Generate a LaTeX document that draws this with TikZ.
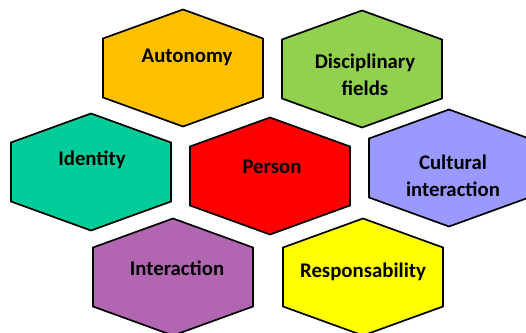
\documentclass[tikz,border=0pt]{standalone}
\usepackage{fontspec}
\setmainfont{Carlito}
\usetikzlibrary{calc}

\definecolor{autonomycol}{HTML}{FFC000}
\definecolor{fieldscol}{HTML}{92D050}
\definecolor{identitycol}{HTML}{00CC99}
\definecolor{personcol}{HTML}{FF0000}
\definecolor{culturalcol}{HTML}{9999FF}
\definecolor{interactioncol}{HTML}{B266B2}
\definecolor{respcol}{HTML}{FFFF00}

\tikzset{
  hexcell/.style={draw=black, line width=1.7pt, line join=miter},
  hextext/.style={font=\bfseries\fontsize{20.8}{27}\selectfont, align=center, inner sep=0pt},
}
\newcommand{\hexcellat}[2]{%
  \filldraw[hexcell, fill=#2] (#1) +(0,-58.5) -- +(80,-29.5) -- +(80,29.5) -- +(0,58.5) -- +(-80,29.5) -- +(-80,-29.5) -- cycle;}

\begin{document}
\begin{tikzpicture}[x=1pt, y=-1pt]
    \useasboundingbox (0,0) rectangle (526,332);
    \clip (0,0) rectangle (526,332);

    \coordinate (autonomy) at (183,68);
    \coordinate (fields) at (362,69);
    \coordinate (identity) at (91,172);
    \coordinate (person) at (270,176);
    \coordinate (cultural) at (449,168);
    \coordinate (interaction) at (173,277);
    \coordinate (resp) at (363,277);

    \hexcellat{autonomy}{autonomycol}
    \hexcellat{fields}{fieldscol}
    \hexcellat{identity}{identitycol}
    \hexcellat{person}{personcol}
    \hexcellat{cultural}{culturalcol}
    \hexcellat{interaction}{interactioncol}
    \hexcellat{resp}{respcol}

    \node[hextext] (autonomyText) at (187,57) {Autonomy};
    \node[hextext] (fieldsText) at (365,74.5) {Disciplinary\\fields};
    \node[hextext] (identityText) at (92,160) {Identity};
    \node[hextext] (personText) at (272,167) {Person};
    \node[hextext] (culturalText) at (453,176) {Cultural\\interaction};
    \node[hextext] (interactionText) at (177,268) {Interaction};
    \node[hextext] (respText) at (363,272) {Responsability};
  \end{tikzpicture}
\end{document}
